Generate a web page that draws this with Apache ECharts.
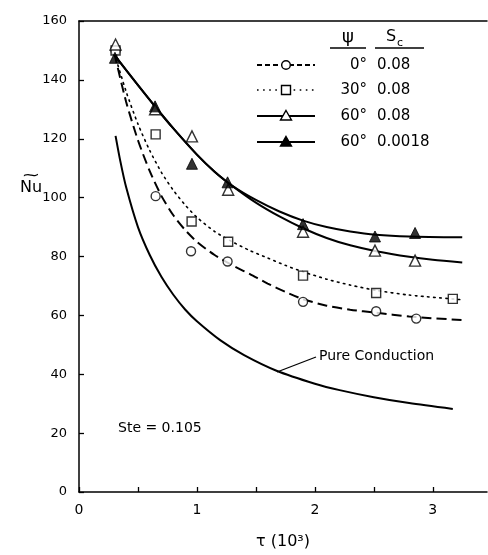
<!DOCTYPE html>
<html><head><meta charset="utf-8">
<script src="https://cdn.jsdelivr.net/npm/echarts@6/dist/echarts.min.js"></script>
<style>html,body{margin:0;padding:0;background:#fff}#c{width:488px;height:555px}</style>
</head><body><div id="c"></div>
<script>
// ---- data ----
const xTickLabels = [0, 1, 2, 3];
const xTickMarks  = [0, 0.5, 1, 1.5, 2, 2.5, 3];
const yTickLabels = [0, 20, 40, 60, 80, 100, 120, 140, 160];

// measured points (tau in 10^3, Nu)
const pts0deg   = [[0.31,150],[0.65,100.5],[0.95,81.8],[1.26,78.3],[1.9,64.6],[2.52,61.4],[2.86,58.9]];
const pts30deg  = [[0.31,150],[0.65,121.5],[0.955,91.9],[1.265,85],[1.9,73.5],[2.52,67.6],[3.17,65.6]];
const pts60deg  = [[0.31,152],[0.645,130],[0.958,120.8],[1.265,102.7],[1.9,88.4],[2.51,82],[2.85,78.6]];
const pts60low  = [[0.305,147.5],[0.645,131],[0.958,111.5],[1.26,105.2],[1.9,91],[2.51,86.8],[2.85,88]];

// fitted curves
const curve0deg  = [[0.3,149],[0.4,132.5],[0.5,119.5],[0.6,109],[0.7,100.5],[0.8,94],[0.9,89],[1.0,85],[1.15,80.5],[1.3,77],[1.45,74],[1.6,70.8],[1.75,68],[1.9,65.5],[2.1,63.3],[2.3,61.9],[2.52,60.9],[2.8,59.6],[3.25,58.4]];
const curve30deg = [[0.3,149],[0.4,136],[0.5,125],[0.6,116],[0.7,108.5],[0.8,102.5],[0.9,97.5],[1.0,93.3],[1.15,88.5],[1.3,85],[1.45,82],[1.6,79.5],[1.75,77],[1.9,74.8],[2.1,72.3],[2.3,70.3],[2.52,68.5],[2.8,66.9],[3.25,65.3]];
const curve60deg = [[0.3,148.5],[0.4,143.3],[0.5,138.2],[0.65,130.7],[0.8,123.5],[1.0,114.6],[1.15,108.8],[1.3,104],[1.5,98.3],[1.7,93.6],[1.9,89.6],[2.1,86.3],[2.3,83.8],[2.52,81.8],[2.8,79.9],[3.0,78.9],[3.25,78]];
const curve60low = [[0.3,148.5],[0.4,143.3],[0.5,138.2],[0.65,130.7],[0.8,123.5],[1.0,114.6],[1.15,108.8],[1.3,104],[1.5,99.2],[1.7,95.3],[1.9,92.2],[2.1,90],[2.3,88.5],[2.52,87.4],[2.8,86.8],[3.25,86.5]];
const curveConduction = [[0.31,121],[0.35,112.5],[0.4,103.5],[0.5,90],[0.6,80.5],[0.7,73],[0.8,67],[0.9,62],[1.0,58],[1.2,51.5],[1.4,46.5],[1.675,41.2],[2.0,36.8],[2.21,34.6],[2.5,32.2],[2.8,30.2],[3.17,28.2]];

const legendPsi = ['0°', '30°', '60°', '60°'];
const legendSc  = ['0.08', '0.08', '0.08', '0.0018'];

// ---- chart ----
const F = 'DejaVu Sans';
const chart = echarts.init(document.getElementById('c'));
const dashStyle = {color:'#000', width:2, type:[10,5]};
const dotStyle  = {color:'#000', width:1.6, type:[1.6,4.5], cap:'round'};
const solidStyle= {color:'#000', width:2};
const openItem  = {color:'#fff', borderColor:'#000', borderWidth:1.4};
const fillItem  = {color:'#000', borderColor:'#000', borderWidth:1};

function lineSeries(data, ls){
  return {type:'line', data, smooth:0.25, symbol:'none', lineStyle:ls, z:2, silent:true};
}
function scatterSeries(data, symbol, size, item){
  return {type:'scatter', data, symbol, symbolSize:size, itemStyle:item, z:5, silent:true};
}

const LX1 = 257, LX2 = 315, LMX = 286;
const rowsY = [65, 90, 116, 142];
const legendStyles = [dashStyle, dotStyle, solidStyle, solidStyle];
function legendMarker(i, y){
  if (i === 0) return {type:'circle', shape:{cx:LMX, cy:y, r:4.3}, style:{fill:'#fff', stroke:'#000', lineWidth:1.4}, z:10};
  if (i === 1) return {type:'rect', shape:{x:LMX-4.5, y:y-4.5, width:9, height:9}, style:{fill:'#fff', stroke:'#000', lineWidth:1.4}, z:10};
  const pts = [[LMX, y-5.5],[LMX+5.5, y+4],[LMX-5.5, y+4]];
  return {type:'polygon', shape:{points:pts}, style:{fill: i===2 ? '#fff' : '#000', stroke:'#000', lineWidth:1.4}, z:10};
}
const legendGraphics = [];
rowsY.forEach((y, i) => {
  const s = legendStyles[i];
  legendGraphics.push({type:'line', shape:{x1:LX1, y1:y, x2:LX2, y2:y},
    style:{stroke:'#000', lineWidth:s.width, lineDash: Array.isArray(s.type) ? [5,3] : null}, z:9});
  legendGraphics.push(legendMarker(i, y));
  legendGraphics.push({type:'text', x:367, y:y, style:{text:legendPsi[i], font:'15px "DejaVu Sans"', fill:'#000', textAlign:'right', textVerticalAlign:'middle'}, z:10});
  legendGraphics.push({type:'text', x:377, y:y, style:{text:legendSc[i], font:'15px "DejaVu Sans"', fill:'#000', textAlign:'left', textVerticalAlign:'middle'}, z:10});
});
// dotted sample uses dot pattern
legendGraphics[4].style.lineDash = dotStyle.type;
legendGraphics[4].style.lineWidth = dotStyle.width;
// headers
legendGraphics.push({type:'text', x:348, y:37, style:{text:'ψ', font:'18px "DejaVu Sans"', fill:'#000', textAlign:'center', textVerticalAlign:'middle'}});
legendGraphics.push({type:'line', shape:{x1:330, y1:48, x2:366, y2:48}, style:{stroke:'#000', lineWidth:1.5}});
legendGraphics.push({type:'text', x:386, y:37, style:{text:'S', font:'16px "DejaVu Sans"', fill:'#000', textAlign:'left', textVerticalAlign:'middle'}});
legendGraphics.push({type:'text', x:397, y:43, style:{text:'c', font:'11px "DejaVu Sans"', fill:'#000', textAlign:'left', textVerticalAlign:'middle'}});
legendGraphics.push({type:'line', shape:{x1:375, y1:48, x2:424, y2:48}, style:{stroke:'#000', lineWidth:1.5}});

const otherGraphics = [
  {type:'text', x:20, y:188, style:{text:'Nu', font:'16px "DejaVu Sans"', fill:'#000', textAlign:'left', textVerticalAlign:'middle'}},
  {type:'text', x:31, y:176, scaleX:1.5, originX:0, originY:0, style:{text:'~', font:'15px "DejaVu Sans"', fill:'#000', textAlign:'center', textVerticalAlign:'middle'}},
  {type:'line', shape:{x1:277, y1:372, x2:316, y2:357}, style:{stroke:'#000', lineWidth:1.3}},
  {type:'text', x:319, y:356, style:{text:'Pure Conduction', font:'14px "DejaVu Sans"', fill:'#000', textAlign:'left', textVerticalAlign:'middle'}},
  {type:'text', x:118, y:428, style:{text:'Ste = 0.105', font:'14px "DejaVu Sans"', fill:'#000', textAlign:'left', textVerticalAlign:'middle'}}
];

const axisLineStyle = {color:'#000', width:1.5};
chart.setOption({
  animation:false,
  backgroundColor:'#fff',
  grid:{left:79, right:1, top:21, bottom:62},
  xAxis:[{
    type:'value', min:0, max:3.46, interval:0.5,
    axisLine:{show:true, lineStyle:axisLineStyle},
    axisTick:{show:true, inside:true, length:5, customValues:xTickMarks, lineStyle:{color:'#000', width:1.3}},
    axisLabel:{customValues:xTickLabels, formatter:v => String(v), color:'#000', fontFamily:F, fontSize:14, margin:11},
    splitLine:{show:false},
    name:'τ (10³)', nameLocation:'middle', nameGap:42,
    nameTextStyle:{color:'#000', fontFamily:F, fontSize:16}
  },{
    type:'value', position:'top', min:0, max:3.46,
    axisLine:{show:true, lineStyle:axisLineStyle},
    axisTick:{show:false}, axisLabel:{show:false}, splitLine:{show:false}
  }],
  yAxis:{
    type:'value', min:0, max:160, interval:20,
    axisLine:{show:true, lineStyle:axisLineStyle},
    axisTick:{show:true, inside:true, length:5, lineStyle:{color:'#000', width:1.3}},
    axisLabel:{formatter:v => yTickLabels.includes(v) ? String(v) : '', color:'#000', fontFamily:F, fontSize:13, margin:12},
    splitLine:{show:false}
  },
  series:[
    lineSeries(curveConduction, solidStyle),
    lineSeries(curve0deg, dashStyle),
    lineSeries(curve30deg, dotStyle),
    lineSeries(curve60deg, solidStyle),
    lineSeries(curve60low, solidStyle),
    scatterSeries(pts0deg, 'circle', 9, openItem),
    scatterSeries(pts30deg, 'rect', 9, openItem),
    scatterSeries(pts60deg, 'triangle', 11, openItem),
    scatterSeries(pts60low, 'triangle', 11, fillItem)
  ],
  graphic: legendGraphics.concat(otherGraphics)
});
</script>
</body></html>
